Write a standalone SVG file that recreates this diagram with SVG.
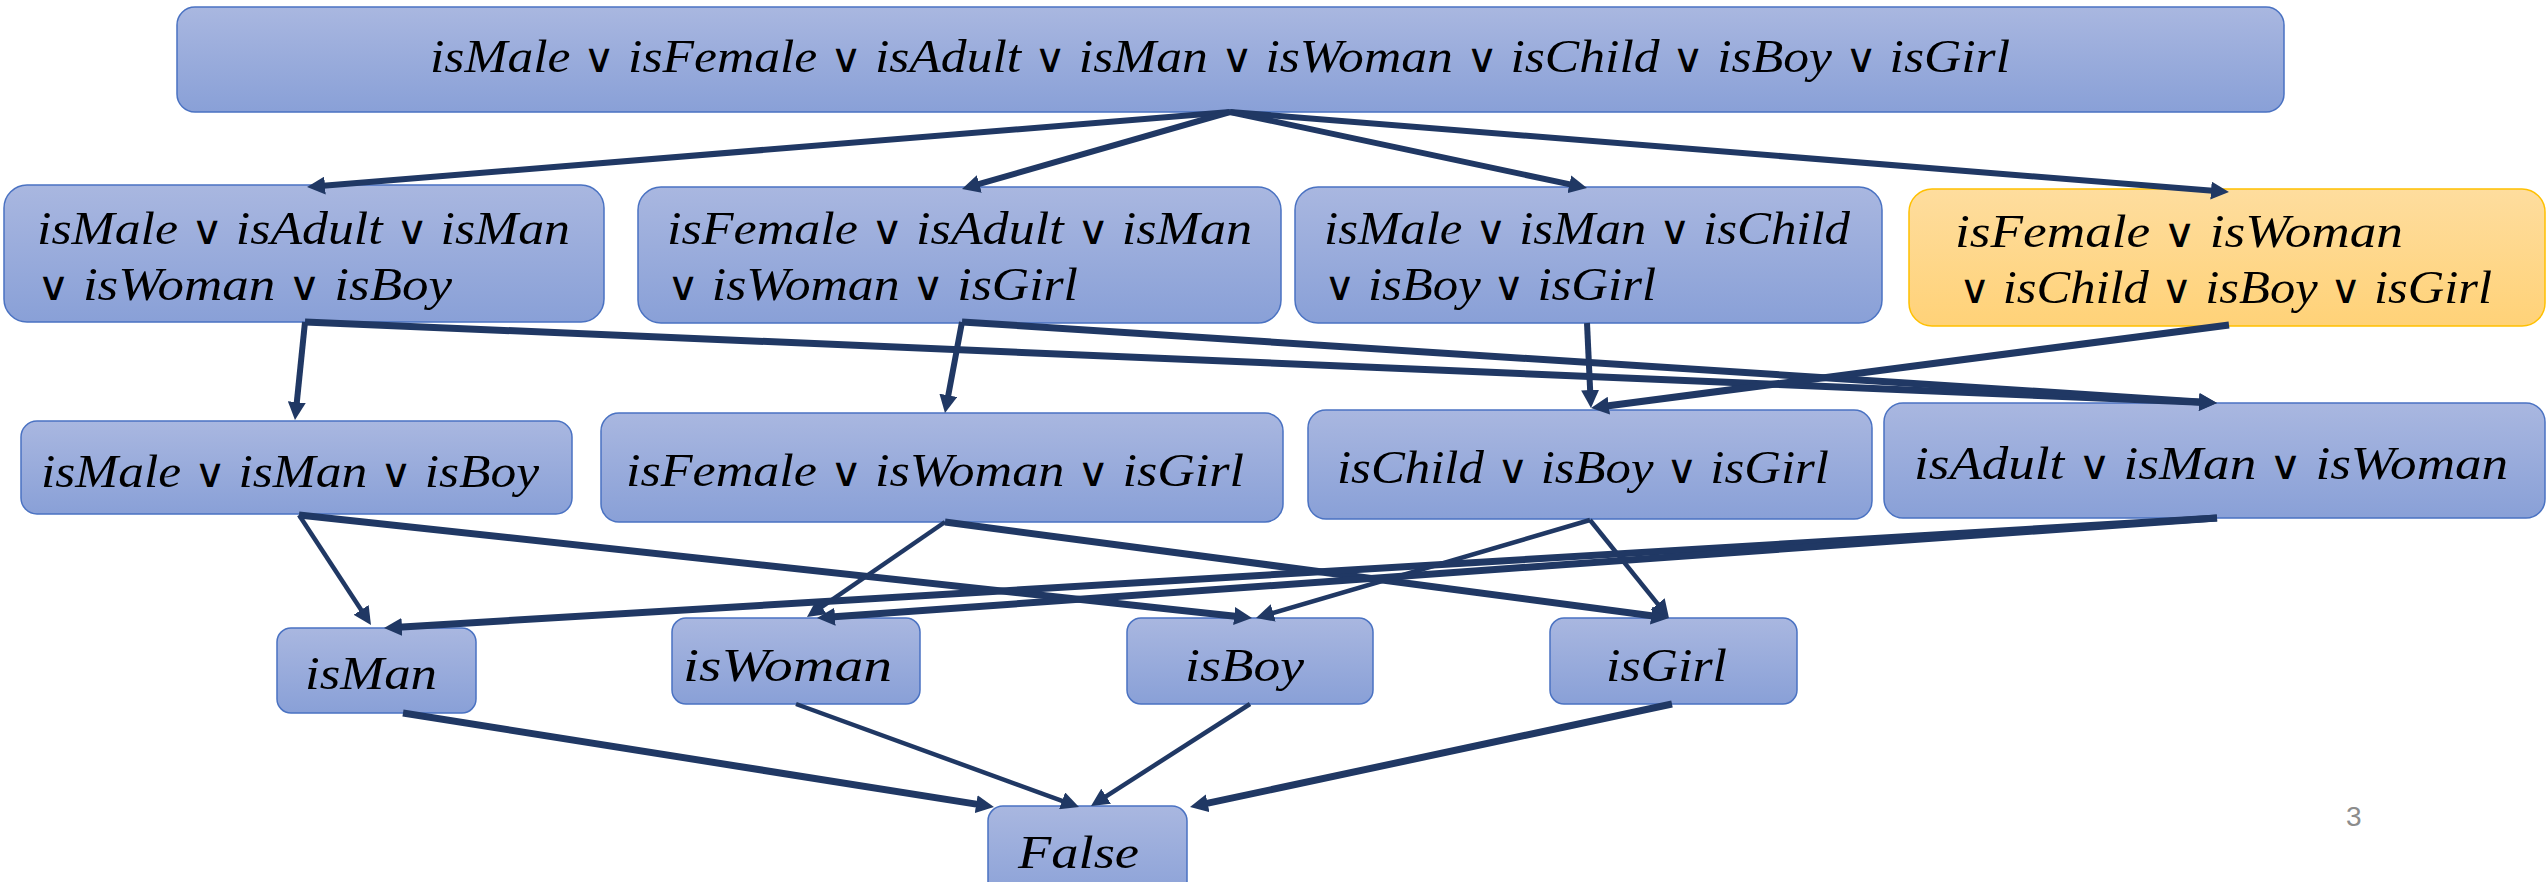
<svg xmlns="http://www.w3.org/2000/svg" width="2547" height="882" viewBox="0 0 2547 882">
  <defs>
    <linearGradient id="blueFill" x1="0" y1="0" x2="0" y2="1">
      <stop offset="0" stop-color="#a9b7e0"/>
      <stop offset="1" stop-color="#89a0d7"/>
    </linearGradient>
    <linearGradient id="goldFill" x1="0" y1="0" x2="0" y2="1">
      <stop offset="0" stop-color="#fedd9e"/>
      <stop offset="1" stop-color="#ffd278"/>
    </linearGradient>
    <marker id="head" markerUnits="userSpaceOnUse" viewBox="0 0 18 18" markerWidth="18" markerHeight="18" refX="8" refY="9" orient="auto">
      <path d="M0,0 L18,9 L0,18 z" fill="#203864"/>
    </marker>
  </defs>
  <style>
    .box { fill: url(#blueFill); stroke: #4a72c2; stroke-width: 1.5; }
    .gold { fill: url(#goldFill); stroke: #ffc000; stroke-width: 1.5; }
    .t { font-family: "Liberation Serif", "DejaVu Serif", serif; font-style: italic; font-size: 47px; fill: #000; }
    .or { font-family: "DejaVu Sans", sans-serif; font-style: normal; font-weight: 300; font-size: 40px; }
    .edge { fill: none; stroke: #203864; stroke-width: 6; marker-end: url(#head); }
    .thin { stroke-width: 4.5; }
    .thick { stroke-width: 7; }
    .pg { font-family: "Liberation Sans", "Open Sans", sans-serif; font-size: 28px; fill: #8c8c8c; }
  </style>

  <rect width="2547" height="882" fill="#ffffff"/>

  <!-- nodes -->
  <g id="all">
    <rect class="box" x="177" y="7" width="2107" height="105" rx="18"/>
    <text class="t" x="430" y="72" textLength="1580" lengthAdjust="spacingAndGlyphs">isMale <tspan class="or">∨</tspan> isFemale <tspan class="or">∨</tspan> isAdult <tspan class="or">∨</tspan> isMan <tspan class="or">∨</tspan> isWoman <tspan class="or">∨</tspan> isChild <tspan class="or">∨</tspan> isBoy <tspan class="or">∨</tspan> isGirl</text>
  </g>

  <g id="male-adult">
    <rect class="box" x="4" y="185" width="600" height="137" rx="23"/>
    <text class="t" x="37" y="244" textLength="533" lengthAdjust="spacingAndGlyphs">isMale <tspan class="or">∨</tspan> isAdult <tspan class="or">∨</tspan> isMan</text>
    <text class="t" x="37" y="300" textLength="415" lengthAdjust="spacingAndGlyphs"><tspan class="or">∨</tspan> isWoman <tspan class="or">∨</tspan> isBoy</text>
  </g>

  <g id="female-adult">
    <rect class="box" x="638" y="187" width="643" height="136" rx="23"/>
    <text class="t" x="667" y="244" textLength="585" lengthAdjust="spacingAndGlyphs">isFemale <tspan class="or">∨</tspan> isAdult <tspan class="or">∨</tspan> isMan</text>
    <text class="t" x="667" y="300" textLength="411" lengthAdjust="spacingAndGlyphs"><tspan class="or">∨</tspan> isWoman <tspan class="or">∨</tspan> isGirl</text>
  </g>

  <g id="male-child">
    <rect class="box" x="1295" y="187" width="587" height="136" rx="23"/>
    <text class="t" x="1324" y="244" textLength="526" lengthAdjust="spacingAndGlyphs">isMale <tspan class="or">∨</tspan> isMan <tspan class="or">∨</tspan> isChild</text>
    <text class="t" x="1324" y="300" textLength="332" lengthAdjust="spacingAndGlyphs"><tspan class="or">∨</tspan> isBoy <tspan class="or">∨</tspan> isGirl</text>
  </g>

  <g id="female-child">
    <rect class="gold" x="1909" y="189" width="636" height="137" rx="23"/>
    <text class="t" x="1955" y="247" textLength="448" lengthAdjust="spacingAndGlyphs">isFemale <tspan class="or">∨</tspan> isWoman</text>
    <text class="t" x="1959" y="303" textLength="533" lengthAdjust="spacingAndGlyphs"><tspan class="or">∨</tspan> isChild <tspan class="or">∨</tspan> isBoy <tspan class="or">∨</tspan> isGirl</text>
  </g>

  <g id="male">
    <rect class="box" x="21" y="421" width="551" height="93" rx="16"/>
    <text class="t" x="41" y="487" textLength="498" lengthAdjust="spacingAndGlyphs">isMale <tspan class="or">∨</tspan> isMan <tspan class="or">∨</tspan> isBoy</text>
  </g>

  <g id="female">
    <rect class="box" x="601" y="413" width="682" height="109" rx="18"/>
    <text class="t" x="626" y="486" textLength="618" lengthAdjust="spacingAndGlyphs">isFemale <tspan class="or">∨</tspan> isWoman <tspan class="or">∨</tspan> isGirl</text>
  </g>

  <g id="child">
    <rect class="box" x="1308" y="410" width="564" height="109" rx="18"/>
    <text class="t" x="1337" y="483" textLength="492" lengthAdjust="spacingAndGlyphs">isChild <tspan class="or">∨</tspan> isBoy <tspan class="or">∨</tspan> isGirl</text>
  </g>

  <g id="adult">
    <rect class="box" x="1884" y="403" width="661" height="115" rx="19"/>
    <text class="t" x="1914" y="479" textLength="594" lengthAdjust="spacingAndGlyphs">isAdult <tspan class="or">∨</tspan> isMan <tspan class="or">∨</tspan> isWoman</text>
  </g>

  <g id="man">
    <rect class="box" x="277" y="628" width="199" height="85" rx="14"/>
    <text class="t" x="305" y="689" textLength="132" lengthAdjust="spacingAndGlyphs">isMan</text>
  </g>

  <g id="woman">
    <rect class="box" x="672" y="618" width="248" height="86" rx="14"/>
    <text class="t" x="683" y="681" textLength="209" lengthAdjust="spacingAndGlyphs">isWoman</text>
  </g>

  <g id="boy">
    <rect class="box" x="1127" y="618" width="246" height="86" rx="14"/>
    <text class="t" x="1185" y="681" textLength="119" lengthAdjust="spacingAndGlyphs">isBoy</text>
  </g>

  <g id="girl">
    <rect class="box" x="1550" y="618" width="247" height="86" rx="14"/>
    <text class="t" x="1606" y="681" textLength="121" lengthAdjust="spacingAndGlyphs">isGirl</text>
  </g>

  <g id="false">
    <rect class="box" x="988" y="806" width="199" height="100" rx="15"/>
    <text class="t" x="1018" y="868" textLength="121" lengthAdjust="spacingAndGlyphs">False</text>
  </g>

  <!-- connectors: each line stops 10px short of its tip; the marker supplies the point -->
  <g id="connectors">
    <line class="edge" x1="1230" y1="112" x2="317.0" y2="186.2"/>
    <line class="edge" x1="1230" y1="112" x2="971.6" y2="186.2"/>
    <line class="edge" x1="1230" y1="112" x2="1577.2" y2="185.9"/>
    <line class="edge" x1="1230" y1="112" x2="2219.0" y2="191.2"/>

    <line class="edge" x1="305" y1="322" x2="296.0" y2="410.1"/>
    <line class="edge thick" x1="305" y1="322" x2="2207.0" y2="402.6"/>
    <line class="edge" x1="962" y1="322" x2="946.8" y2="403.2"/>
    <line class="edge thick" x1="962" y1="322" x2="2207.0" y2="402.4"/>
    <line class="edge" x1="1587" y1="323" x2="1590.5" y2="398.0"/>
    <line class="edge thick" x1="2229" y1="325" x2="1600.9" y2="406.7"/>

    <line class="edge thin" x1="299" y1="515" x2="365.5" y2="616.6"/>
    <line class="edge thick" x1="299" y1="515" x2="1242.1" y2="616.9"/>
    <line class="edge thin" x1="945" y1="522" x2="815.2" y2="611.3"/>
    <line class="edge thick" x1="945" y1="522" x2="1659.1" y2="616.7"/>
    <line class="edge thin" x1="1590" y1="520" x2="1265.6" y2="615.2"/>
    <line class="edge thin" x1="1590" y1="520" x2="1662.7" y2="610.2"/>
    <line class="edge thick" x1="2217" y1="518" x2="394.0" y2="627.4"/>
    <line class="edge thick" x1="2217" y1="518" x2="827.0" y2="617.3"/>

    <line class="edge thick" x1="403" y1="713" x2="984.1" y2="805.4"/>
    <line class="edge thin" x1="796" y1="704" x2="1069.6" y2="803.6"/>
    <line class="edge thin" x1="1250" y1="704" x2="1099.4" y2="800.6"/>
    <line class="edge thick" x1="1672" y1="704" x2="1199.8" y2="804.9"/>
  </g>

  <text class="pg" x="2346" y="826">3</text>
</svg>
